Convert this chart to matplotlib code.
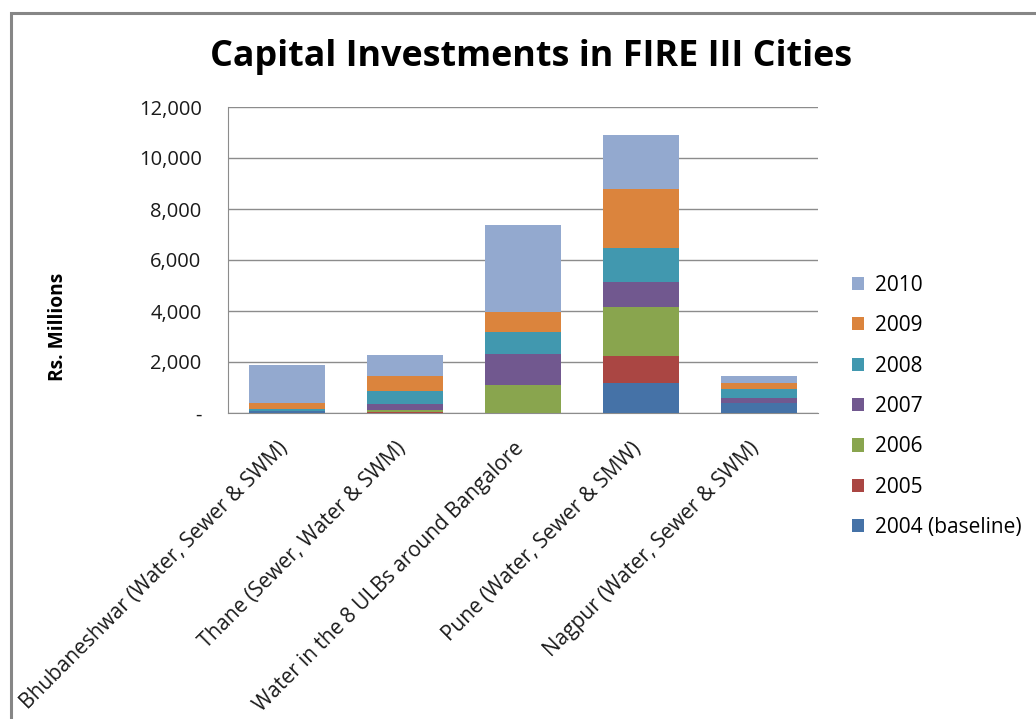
import matplotlib
matplotlib.use("Agg")
import matplotlib.pyplot as plt
import matplotlib.transforms as mtransforms
import numpy as np

categories = [
    "Bhubaneshwar (Water, Sewer & SWM)",
    "Thane (Sewer, Water & SWM)",
    "Water in the 8 ULBs around Bangalore",
    "Pune (Water, Sewer & SMW)",
    "Nagpur (Water, Sewer & SWM)",
]
series_names = ["2004 (baseline)", "2005", "2006", "2007", "2008", "2009", "2010"]
v2004 = [60, 0, 0, 1180, 390]
v2005 = [0, 40, 0, 1040, 0]
v2006 = [10, 60, 1090, 1920, 0]
v2007 = [10, 260, 1210, 980, 200]
v2008 = [90, 520, 870, 1350, 370]
v2009 = [220, 590, 790, 2310, 200]
v2010 = [1500, 810, 3420, 2130, 290]
series_values = [v2004, v2005, v2006, v2007, v2008, v2009, v2010]
colors = ["#4572A7", "#AA4643", "#89A54E", "#71588F", "#4198AF", "#DB843D", "#93A9CF"]
yticks = [0, 2000, 4000, 6000, 8000, 10000, 12000]
ytick_labels = ["-", "2,000", "4,000", "6,000", "8,000", "10,000", "12,000"]

plt.rcParams['font.family'] = ['Open Sans', 'DejaVu Sans']
W, H = 1036, 719
fig = plt.figure(figsize=(W / 100, H / 100), dpi=100)

# outer chart border
border = plt.Rectangle((11 / W, -0.01), 1.05, (719 - 13) / H + 0.01, transform=fig.transFigure,
                       fill=False, edgecolor="#868686", linewidth=2.2)
fig.patches.append(border)

ax = fig.add_axes([228 / W, 1 - 413 / H, (818 - 228) / W, (413 - 107) / H])
x = np.arange(len(categories))
bottom = np.zeros(len(categories))
handles = []
for name, vals, c in zip(series_names, series_values, colors):
    b = ax.bar(x, vals, width=0.64, bottom=bottom, color=c, label=name, zorder=3)
    bottom += np.array(vals)
    handles.append(b)

ax.set_xlim(-0.5, len(categories) - 0.5)
ax.set_ylim(0, 12000)
ax.set_yticks(yticks)
ax.set_yticklabels(ytick_labels, fontsize=14.5, color="#1a1a1a")
ax.yaxis.grid(True, color="#8c8c8c", linewidth=1.0, zorder=0)
ax.tick_params(axis='y', length=0, pad=19)
ax.tick_params(axis='x', length=0, pad=18)
for s in ["top", "right"]:
    ax.spines[s].set_visible(False)
ax.spines["left"].set_color("#8c8c8c")
ax.spines["bottom"].set_color("#8c8c8c")
ax.set_xticks(x)
ax.set_xticklabels(categories, rotation=45, ha="right", va="top", rotation_mode="anchor",
                   fontsize=15, color="#1a1a1a")
shift = mtransforms.ScaledTranslation(-10 / 100, 0, fig.dpi_scale_trans)
for lbl in ax.get_xticklabels():
    lbl.set_transform(lbl.get_transform() + shift)

fig.text(531 / W, 1 - 57 / H, "Capital Investments in FIRE III Cities", ha="center", va="center",
         fontsize=25.8, fontweight="bold", color="black")
fig.text(58 / W, 1 - 327 / H, "Rs. Millions", rotation=90, ha="center", va="center",
         fontsize=13.8, fontweight="bold", color="black")

leg = fig.legend(handles[::-1], series_names[::-1], loc="upper left",
                 bbox_to_anchor=(833 / W, 1 - 256 / H), frameon=False, fontsize=15,
                 handlelength=0.6, handleheight=0.6, handletextpad=0.5, labelspacing=0.93)

fig.savefig("out.png", dpi=100, facecolor="white")
